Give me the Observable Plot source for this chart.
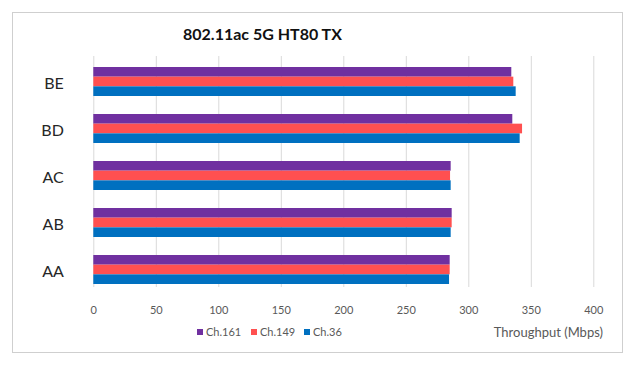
<!DOCTYPE html>
<html><head><meta charset="utf-8">
<script src="https://cdn.jsdelivr.net/npm/d3@7"></script>
<script src="https://cdn.jsdelivr.net/npm/@observablehq/plot@0.6"></script>
<style>
body{margin:0;background:#fff;font-family:Lato,"Open Sans",sans-serif;}
#wrap{position:relative;width:634px;height:369px;overflow:hidden;background:#fff}
#frame{position:absolute;left:12px;top:12px;width:611px;height:341px;border:1px solid #CFCFCF;box-sizing:border-box}
#title{position:absolute;left:0;width:525px;top:26px;text-align:center;font-size:16px;line-height:16px;font-weight:bold;color:#111}
.leg{position:absolute;top:326px;font-size:11px;line-height:12px;color:#595959;white-space:nowrap}
.leg span{display:inline-block;width:6px;height:6px;margin-right:3px;vertical-align:1px}
#xt{position:absolute;right:31px;top:325px;font-size:13px;line-height:15px;color:#595959}
#chart{position:absolute;left:0;top:0}
</style></head>
<body><div id="wrap"><div id="frame"></div><div id="chart"></div>
<div id="title">802.11ac 5G HT80 TX</div>
<div id="legend"></div>
<div id="xt">Throughput (Mbps)</div>
</div>
<script>
const categories = ["BE","BD","AC","AB","AA"];
const series = ["Ch.161","Ch.149","Ch.36"];
const ch161 = [334.4, 335.2, 285.9, 286.7, 285.1];
const ch149 = [336.0, 343.0, 285.4, 286.7, 285.1];
const ch36  = [337.9, 341.1, 285.9, 285.9, 284.6];
const xTicks = [0,50,100,150,200,250,300,350,400];
const colors = ["#7030A0","#FF5050","#0070C0"];

const values = [ch161, ch149, ch36];
const rows = [];
series.forEach((s,i)=>categories.forEach((c,j)=>rows.push({series:s, category:c, value:values[i][j]})));

const bh = 29/3;
const chart = Plot.plot({
  width:634, height:369,
  marginLeft:93.3, marginRight:40.7, marginTop:56, marginBottom:75,
  style:{fontFamily:"Lato, 'Open Sans', sans-serif", background:"transparent"},
  x:{domain:[0,400]},
  y:{domain:categories, paddingInner:0.39, paddingOuter:0.195},
  marks:[
    Plot.ruleX(xTicks,{stroke:"#D9D9D9", strokeWidth:1, insetBottom:7}),
    ...series.map((s,i)=>Plot.barX(rows.filter(d=>d.series===s),{
      x:"value", y:"category", fill:colors[i], insetTop:i*bh, insetBottom:(2-i)*bh
    })),
    Plot.axisX({ticks:xTicks, tickSize:0, tickPadding:12, fontSize:11, fill:"#595959", label:null}),
    Plot.axisY({tickSize:0, tickPadding:30, fontSize:16, fill:"#262626", label:null, dy:1.5})
  ]
});
document.getElementById("chart").appendChild(chart);

const legX = [197, 251, 304];
const leg = document.getElementById("legend");
series.forEach((s,i)=>{
  const d = document.createElement("div");
  d.className = "leg";
  d.style.left = legX[i] + "px";
  d.innerHTML = `<span style="background:${colors[i]}"></span>${s}`;
  leg.appendChild(d);
});
</script>
</body></html>
